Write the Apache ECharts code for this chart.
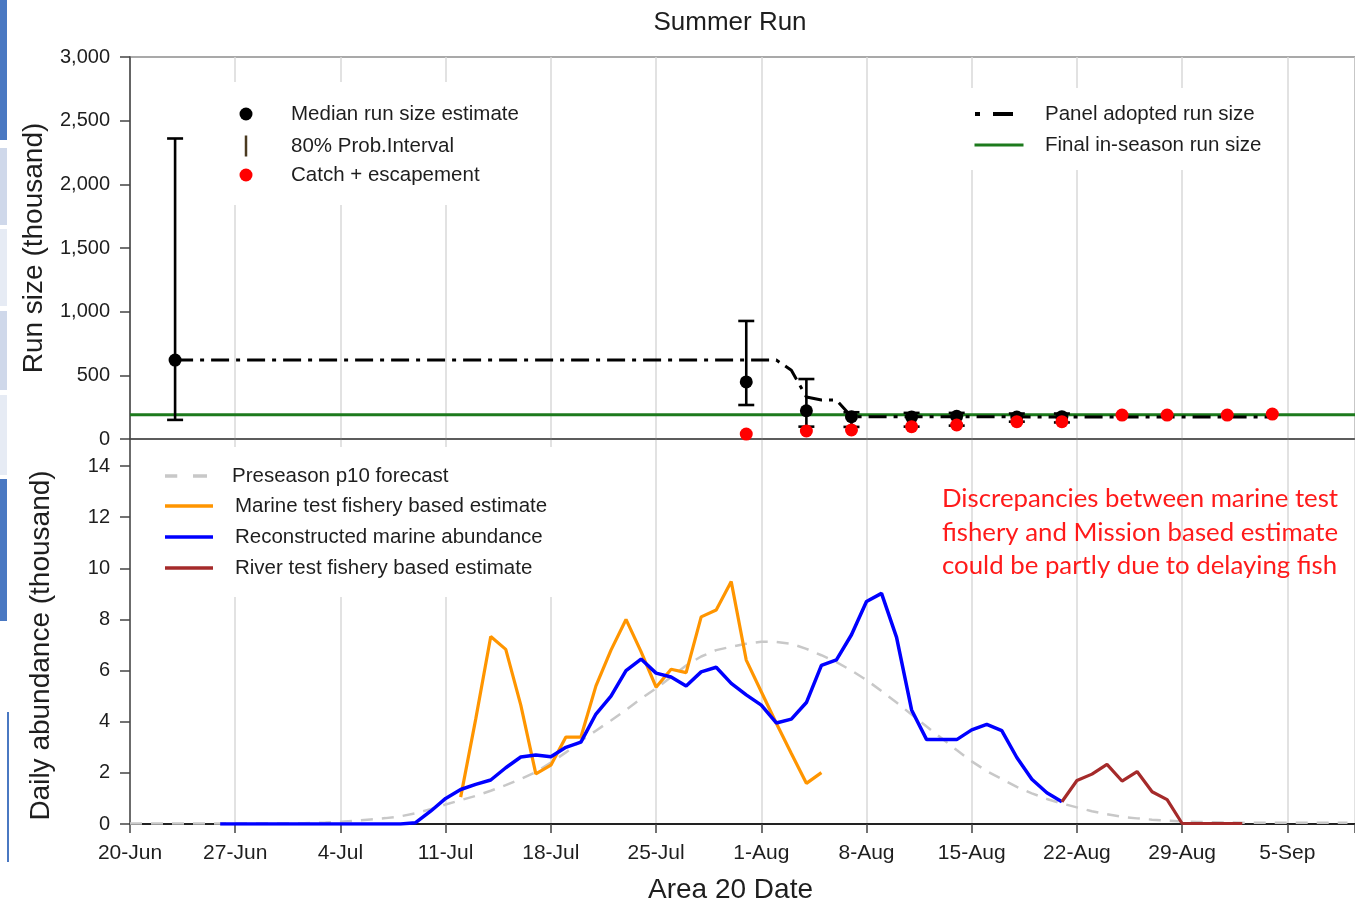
<!DOCTYPE html>
<html><head><meta charset="utf-8">
<script src="https://cdn.jsdelivr.net/npm/echarts@6/dist/echarts.min.js"></script>
<style>html,body{margin:0;padding:0;background:#fff}#c{width:1355px;height:903px}</style>
</head><body><div id="c"></div>
<script>
// ---- x axis: days after 20-Jun ----
const tickLabels = ['20-Jun','27-Jun','4-Jul','11-Jul','18-Jul','25-Jul','1-Aug','8-Aug','15-Aug','22-Aug','29-Aug','5-Sep'];
const xMaxDay = 81.5;

// ---- top panel: run size (thousand) ----
const medianDays = [3, 41, 45, 48, 52, 55, 59, 62];
const medianRun  = [620, 448, 222, 175, 172, 178, 172, 175];
const piLow      = [150, 267, 97, 95, 97, 105, 136, 130];
const piHigh     = [2360, 927, 471, 210, 205, 205, 200, 200];
const catchDays  = [41, 45, 48, 52, 55, 59, 62, 66, 69, 73, 76];
const catchEsc   = [39, 63, 71, 97, 110, 136, 136, 188, 188, 188, 196];
const panelDays  = [3, 43, 44, 45, 46, 47, 48, 76];
const panelRun   = [620, 620, 540, 330, 306, 306, 175, 172];
const finalRun   = 190;

// ---- bottom panel: daily abundance (thousand) ----
const forecastStart = 0;
const forecast = [0.02,0.02,0.02,0.02,0.02,0.02,0.02,0.02,0.02,0.02,0.02,0.02,
  0.04,0.06,0.09,0.13,0.18,0.23,0.3,0.42,0.58,0.76,0.93,1.1,1.3,1.52,1.76,2.03,2.4,2.8,
  3.25,3.65,4.05,4.46,4.9,5.3,5.75,6.2,6.55,6.8,6.93,7.05,7.13,7.12,7.05,6.85,6.6,6.33,
  6.0,5.63,5.2,4.75,4.28,3.81,3.35,2.89,2.45,2.07,1.76,1.45,1.2,0.98,0.8,0.65,0.5,0.38,
  0.28,0.22,0.17,0.13,0.1,0.08,0.07,0.06,0.05,0.05,0.05,0.05,0.05,0.05,0.05,0.05];
const marineStart = 22;
const marine = [1.05,4.1,7.33,6.83,4.65,1.96,2.3,3.4,3.4,5.4,6.8,8.0,6.74,5.35,6.05,5.92,8.1,8.37,9.48,6.41,5.17,3.94,2.76,1.59,2.01];
const reconStart = 6;
const recon = [0,0,0,0,0,0,0,0,0,0,0,0,0,0.05,0.5,1.0,1.35,1.55,1.72,2.2,2.62,2.7,2.63,3.0,3.2,4.3,5.0,6.0,6.45,5.9,5.75,5.4,5.95,6.13,5.5,5.05,4.65,3.95,4.1,4.75,6.2,6.42,7.4,8.7,9.02,7.3,4.46,3.3,3.3,3.3,3.68,3.9,3.65,2.6,1.75,1.22,0.87];
const riverStart = 62;
const river = [0.87,1.7,1.95,2.33,1.68,2.05,1.26,0.95,0.02,0.02,0.02,0.02,0.02];

const toXY = (start, arr) => arr.map((v, i) => [start + i, v]);
const zip = (xs, ys) => xs.map((x, i) => [x, ys[i]]);

const FONT = 'Liberation Sans';
const TXT = '#1e1e1e';
const AX = '#444';
const GRIDC = '#d9d9d9';

function mkLegend(name, icon, w, h, cx, cy, textX, color) {
  const left = cx - w / 2;
  return {
    data: [{ name: name, icon: icon, itemStyle: { color: color, borderWidth: 0, opacity: 1 } }],
    left: left, top: cy - 12, padding: 0, itemWidth: w, itemHeight: h, itemGap: 0,
    selectedMode: false, z: 6,
    itemStyle: { borderWidth: 0 },
    textStyle: { fontFamily: FONT, fontSize: 20.5, color: TXT, lineHeight: 24,
      padding: [0, 0, 0, textX - (left + w + 5)] }
  };
}

const xCommon = {
  type: 'value', min: 0, max: xMaxDay, interval: 7,
  splitLine: { show: true, lineStyle: { color: GRIDC, width: 1.5 } }
};

const option = {
  animation: false,
  textStyle: { fontFamily: FONT },
  grid: [
    { left: 130, right: 0, top: 57, height: 382, show: true, borderColor: '#555', borderWidth: 1.2, backgroundColor: 'transparent', outerBoundsMode: 'none' },
    { left: 130, right: 0, top: 439, height: 385, outerBoundsMode: 'none' }
  ],
  xAxis: [
    Object.assign({}, xCommon, { gridIndex: 0,
      axisLine: { show: true, onZero: false, lineStyle: { color: AX, width: 1.5 } },
      axisTick: { show: false }, axisLabel: { show: false } }),
    Object.assign({}, xCommon, { gridIndex: 1,
      axisLine: { show: true, onZero: false, lineStyle: { color: '#222', width: 2 } },
      axisTick: { show: true, length: 9, lineStyle: { color: AX, width: 1.5 } },
      axisLabel: { show: true, margin: 19, fontSize: 21, color: TXT, fontFamily: FONT,
        formatter: v => (v % 7 === 0 && tickLabels[v / 7] !== undefined) ? tickLabels[v / 7] : '' },
      name: 'Area 20 Date', nameLocation: 'middle', nameGap: 50,
      nameTextStyle: { fontSize: 28, color: TXT, fontFamily: FONT, padding: [0, 24, 0, 0], lineHeight: 32 } })
  ],
  yAxis: [
    { type: 'value', gridIndex: 0, min: 0, max: 3000, interval: 500,
      axisLine: { show: true, lineStyle: { color: AX, width: 1.5 } },
      axisTick: { show: true, length: 10, lineStyle: { color: AX, width: 1.5 } },
      axisLabel: { margin: 20, fontSize: 20, color: TXT, fontFamily: FONT,
        formatter: v => v.toLocaleString('en-US') },
      splitLine: { show: false },
      name: 'Run size (thousand)', nameLocation: 'middle', nameRotate: 90, nameGap: 74,
      nameTextStyle: { fontSize: 28, color: TXT, fontFamily: FONT, lineHeight: 30 } },
    { type: 'value', gridIndex: 1, min: 0, max: 15.056, interval: 2,
      axisLine: { show: true, lineStyle: { color: AX, width: 1.5 } },
      axisTick: { show: true, length: 10, lineStyle: { color: AX, width: 1.5 } },
      axisLabel: { margin: 20, fontSize: 20, color: TXT, fontFamily: FONT,
        formatter: v => (v % 2 === 0 && v <= 14) ? String(v) : '' },
      splitLine: { show: false },
      name: 'Daily abundance (thousand)', nameLocation: 'middle', nameRotate: 90, nameGap: 74,
      nameTextStyle: { fontSize: 28, color: TXT, fontFamily: FONT, lineHeight: 30, padding: [0, 28, 0, 0] } }
  ],
  legend: [
    mkLegend('Median run size estimate', 'circle', 13, 13, 246, 114, 291, '#000'),
    mkLegend('80% Prob.Interval', 'rect', 2.5, 21, 246, 146, 291, '#4a3a20'),
    mkLegend('Catch + escapement', 'circle', 13, 13, 246, 175, 291, '#ff0000'),
    mkLegend('Panel adopted run size', 'path://M0,0h5v4h-5z M18,0h20v4h-20z', 38, 4, 994, 114, 1045, '#000'),
    mkLegend('Final in-season run size', 'rect', 49, 3, 999, 145, 1045, '#1c7a1c'),
    mkLegend('Preseason p10 forecast', 'path://M0,0h14v4h-14z M32,0h16v4h-16z', 48, 3.5, 189, 476, 235, '#c8c8c8'),
    mkLegend('Marine test fishery based estimate', 'rect', 48, 3.5, 189, 506, 235, '#ff9500'),
    mkLegend('Reconstructed marine abundance', 'rect', 48, 3.5, 189, 537, 235, '#0000ff'),
    mkLegend('River test fishery based estimate', 'rect', 48, 3.5, 189, 568, 235, '#a52a2a')
  ],
  graphic: [
    // slide edge decorations
    { type: 'rect', z: 5, shape: { x: 0, y: 0, width: 7, height: 140 }, style: { fill: '#4a78c2' } },
    { type: 'rect', z: 5, shape: { x: 0, y: 148, width: 7, height: 77 }, style: { fill: '#cfd8ea' } },
    { type: 'rect', z: 5, shape: { x: 0, y: 229, width: 7, height: 77 }, style: { fill: '#e6ebf4' } },
    { type: 'rect', z: 5, shape: { x: 0, y: 311, width: 7, height: 79 }, style: { fill: '#cfd8ea' } },
    { type: 'rect', z: 5, shape: { x: 0, y: 395, width: 7, height: 80 }, style: { fill: '#e6ebf4' } },
    { type: 'rect', z: 5, shape: { x: 0, y: 479, width: 7, height: 142 }, style: { fill: '#4a78c2' } },
    { type: 'rect', z: 5, shape: { x: 7, y: 712, width: 2, height: 150 }, style: { fill: '#4a78c2' } },
    // legend backgrounds
    { type: 'rect', z: 1, shape: { x: 225, y: 82, width: 310, height: 123 }, style: { fill: '#fff' } },
    { type: 'rect', z: 1, shape: { x: 960, y: 88, width: 322, height: 82 }, style: { fill: '#fff' } },
    { type: 'rect', z: 1, shape: { x: 150, y: 447, width: 410, height: 150 }, style: { fill: '#fff' } },
    // title and note
    { type: 'text', z: 5, x: 730, y: 23, style: { text: 'Summer Run', fontSize: 26, fontFamily: FONT, fill: TXT, align: 'center', verticalAlign: 'middle' } },
    { type: 'text', z: 5, x: 942, y: 482, style: { text: 'Discrepancies between marine test\nfishery and Mission based estimate\ncould be partly due to delaying fish',
      fontSize: 25.8, fontFamily: 'Lato', fill: '#ff1a1a', lineHeight: 33.5, align: 'left', verticalAlign: 'top' } }
  ],
  series: [
    { name: 'Final in-season run size', type: 'line', xAxisIndex: 0, yAxisIndex: 0, z: 2,
      data: [[0, finalRun], [xMaxDay, finalRun]], symbol: 'none', color: '#1c7a1c',
      lineStyle: { color: '#1c7a1c', width: 3 } },
    { name: 'Panel adopted run size', type: 'line', xAxisIndex: 0, yAxisIndex: 0, z: 3,
      data: zip(panelDays, panelRun), symbol: 'none', color: '#000',
      lineStyle: { color: '#000', width: 3, type: [18, 7, 4, 7], cap: 'butt' } },
    { name: '80% Prob.Interval', type: 'custom', xAxisIndex: 0, yAxisIndex: 0, z: 4,
      data: medianDays.map((d, i) => [d, piLow[i], piHigh[i]]),
      encode: { x: 0, y: [1, 2] }, color: '#000',
      renderItem: function (params, api) {
        const lo = api.coord([api.value(0), api.value(1)]);
        const hi = api.coord([api.value(0), api.value(2)]);
        const c = 8, st = { stroke: '#000', lineWidth: 2.6 };
        return { type: 'group', children: [
          { type: 'line', shape: { x1: lo[0], y1: lo[1], x2: hi[0], y2: hi[1] }, style: st },
          { type: 'line', shape: { x1: lo[0] - c, y1: lo[1], x2: lo[0] + c, y2: lo[1] }, style: st },
          { type: 'line', shape: { x1: hi[0] - c, y1: hi[1], x2: hi[0] + c, y2: hi[1] }, style: st }
        ] };
      } },
    { name: 'Median run size estimate', type: 'scatter', xAxisIndex: 0, yAxisIndex: 0, z: 5,
      data: zip(medianDays, medianRun), symbol: 'circle', symbolSize: 13, color: '#000',
      itemStyle: { color: '#000', opacity: 1 } },
    { name: 'Catch + escapement', type: 'scatter', xAxisIndex: 0, yAxisIndex: 0, z: 6,
      data: zip(catchDays, catchEsc), symbol: 'circle', symbolSize: 13, color: '#ff0000',
      itemStyle: { color: '#ff0000', opacity: 1 } },

    { name: 'Preseason p10 forecast', type: 'line', xAxisIndex: 1, yAxisIndex: 1, z: 2,
      data: toXY(forecastStart, forecast), symbol: 'none', smooth: false, color: '#c8c8c8',
      lineStyle: { color: '#c8c8c8', width: 2.5, type: [12, 9] } },
    { name: 'Marine test fishery based estimate', type: 'line', xAxisIndex: 1, yAxisIndex: 1, z: 3,
      data: toXY(marineStart, marine), symbol: 'none', color: '#ff9500',
      lineStyle: { color: '#ff9500', width: 3.2 } },
    { name: 'Reconstructed marine abundance', type: 'line', xAxisIndex: 1, yAxisIndex: 1, z: 4,
      data: toXY(reconStart, recon), symbol: 'none', color: '#0000ff',
      lineStyle: { color: '#0000ff', width: 3.5 } },
    { name: 'River test fishery based estimate', type: 'line', xAxisIndex: 1, yAxisIndex: 1, z: 4,
      data: toXY(riverStart, river), symbol: 'none', color: '#a52a2a',
      lineStyle: { color: '#a52a2a', width: 3.2 } }
  ]
};

const chart = echarts.init(document.getElementById('c'));
chart.setOption(option);
</script>
</body></html>
